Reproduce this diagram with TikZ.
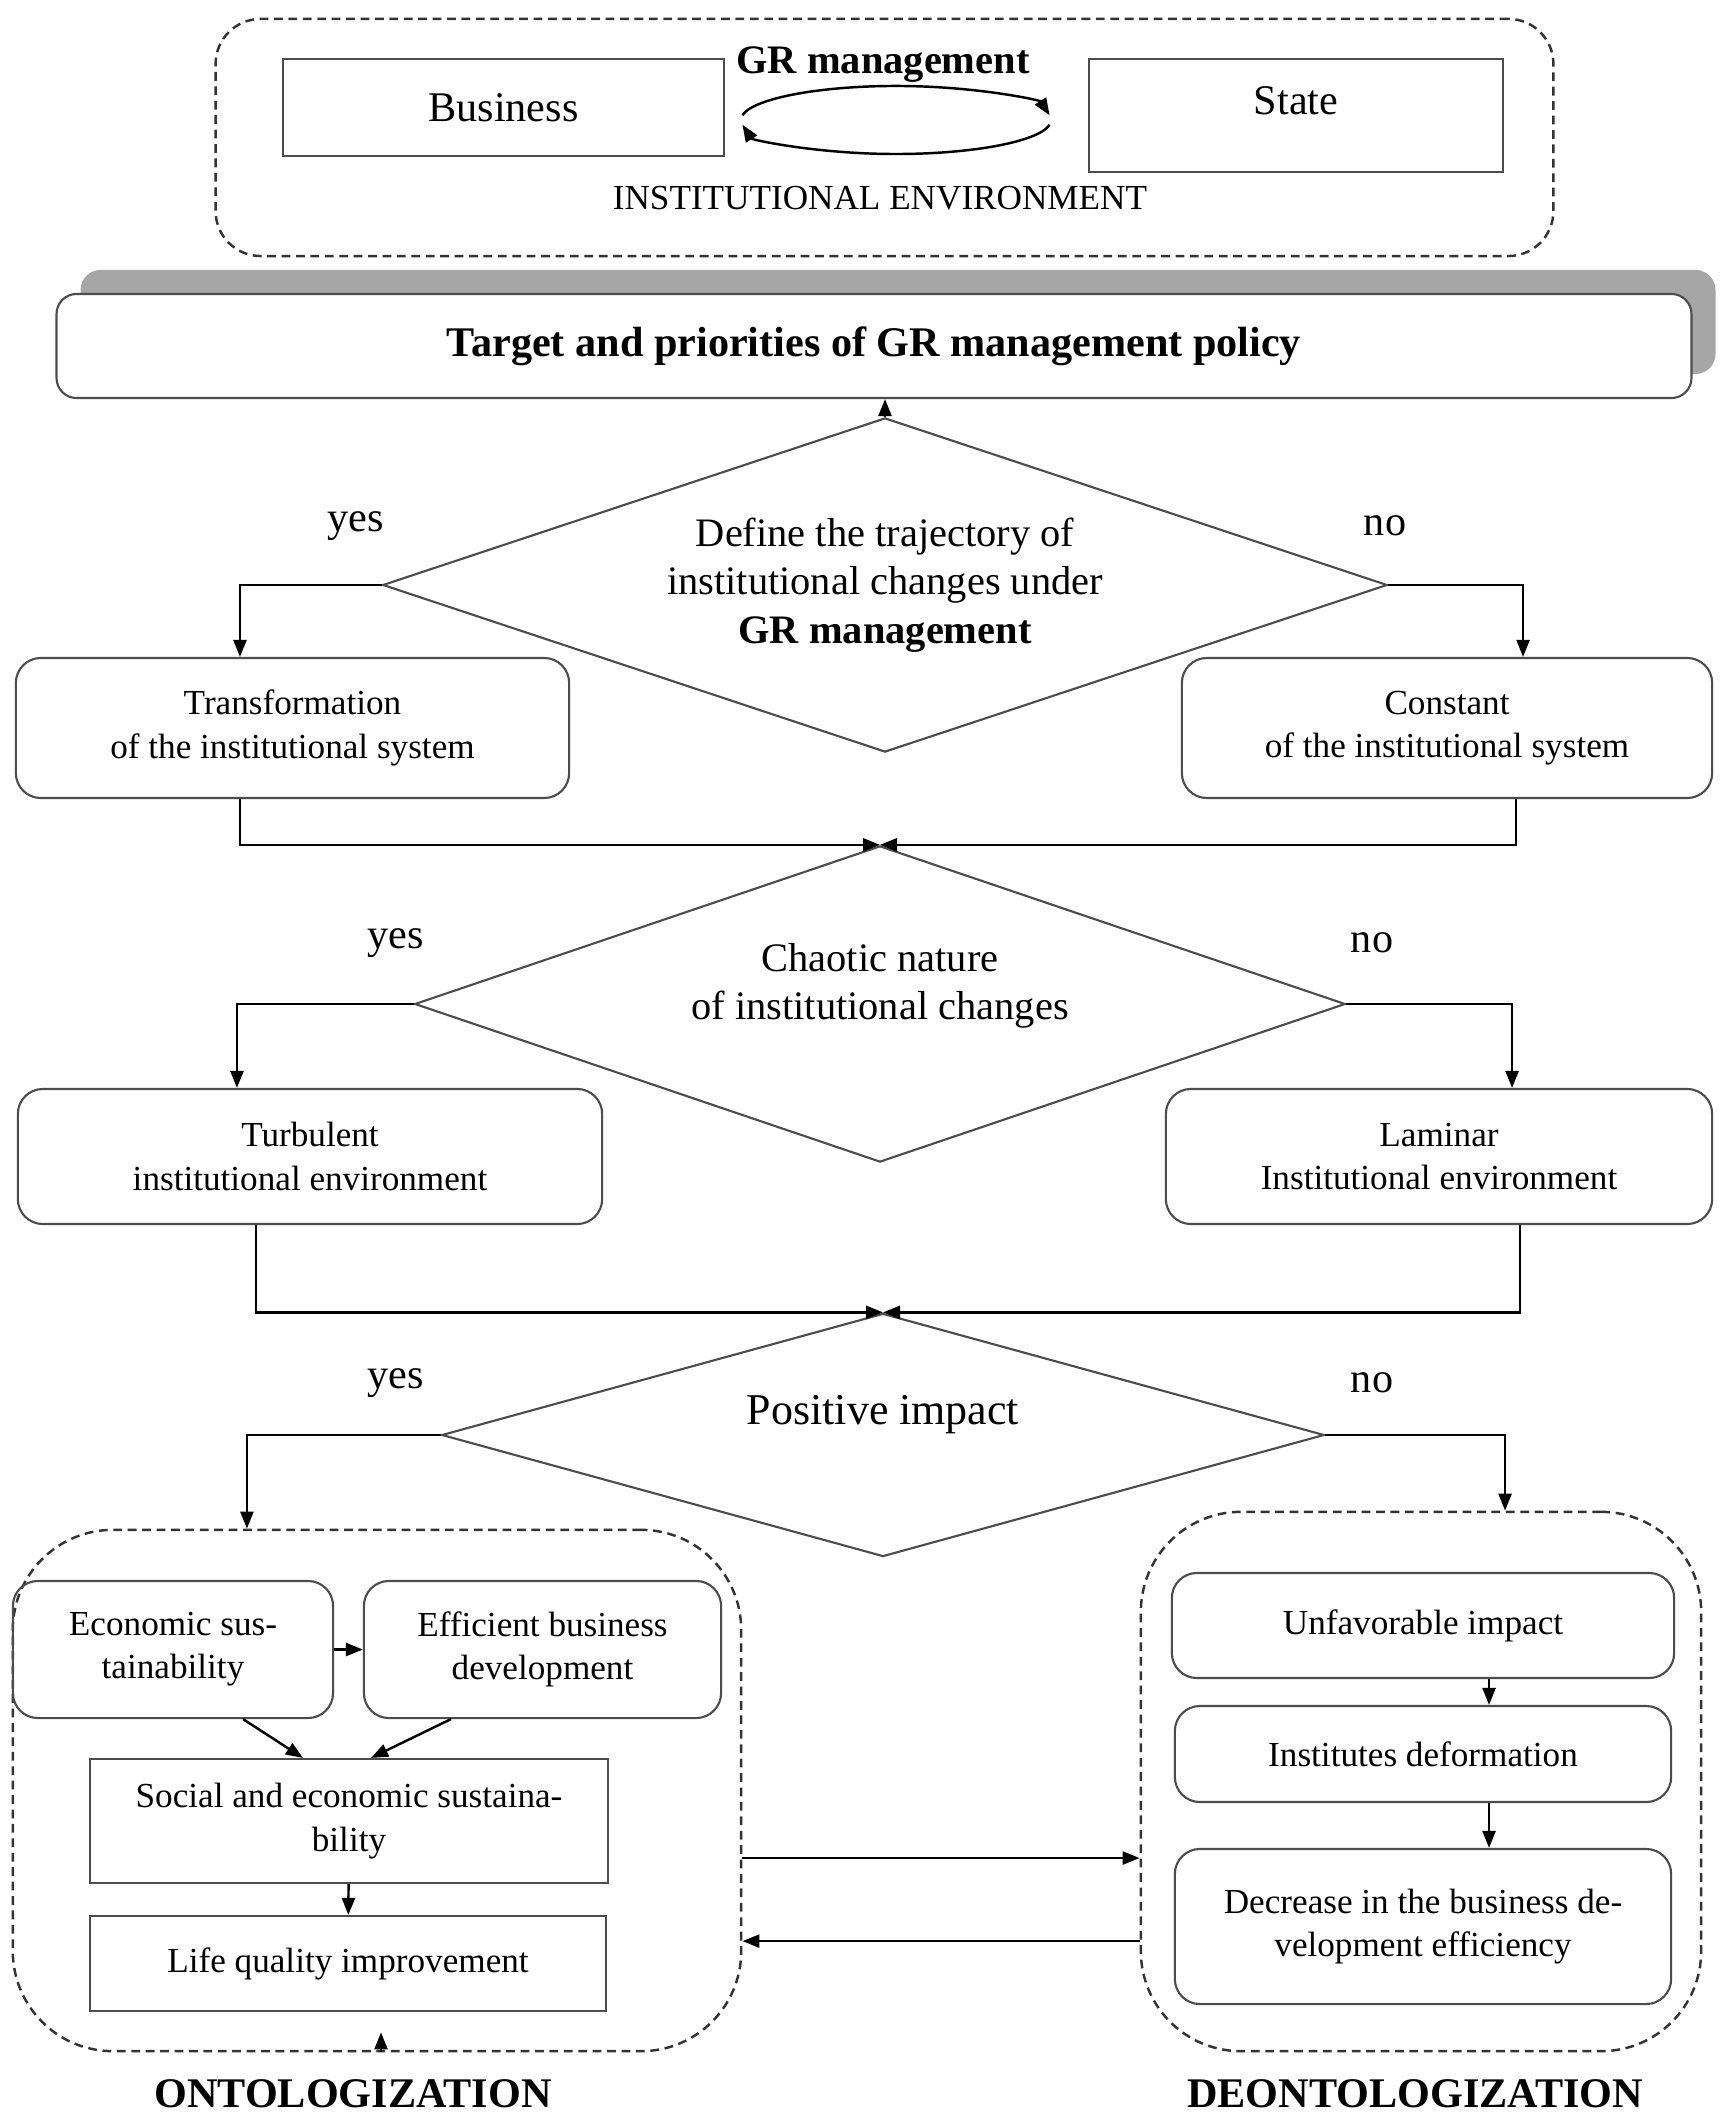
\documentclass[tikz,border=0pt]{standalone}
\usepackage{fontspec}
\setmainfont{Liberation Serif}
\usetikzlibrary{shapes.geometric,arrows.meta,shadows}

\begin{document}
\begin{tikzpicture}[x=0.01cm,y=0.01cm,
  every node/.style={font=\fontsize{10pt}{12.3pt}\selectfont, align=center},
  box/.style={draw=black!70, line width=0.6pt, inner sep=2pt},
  rbox/.style={box, rounded corners=0.25cm},
  grp/.style={draw=black!80, line width=0.7pt, dash pattern=on 2.5pt off 1.6pt, rounded corners=1cm},
  cond/.style={diamond, draw=black!70, line width=0.6pt, inner sep=0pt, font=\fontsize{11.5pt}{13.8pt}\selectfont},
  arr/.style={-{Triangle[length=1.7mm,width=1.3mm]}, line width=0.7pt},
  lbl/.style={font=\fontsize{12pt}{14pt}\selectfont}]

\useasboundingbox (0,0) rectangle (1725,-2113);

\node[grp, rounded corners=0.45cm, minimum width=13.37cm, minimum height=2.37cm] (env) at (884.5,-137.5) {};
\node[box, minimum width=4.41cm, minimum height=0.97cm, font=\fontsize{12pt}{14pt}\selectfont] (bus) at (503.5,-107.5) {Business};
\node[box, minimum width=4.14cm, minimum height=1.13cm, text depth=0.3cm, font=\fontsize{12pt}{14pt}\selectfont] (state) at (1296,-115.5) {State};
\node[font=\bfseries\fontsize{11.5pt}{14pt}\selectfont] (grm) at (883,-65) {GR management};
\coordinate (cyc) at (896,-120);
\draw[arr] ([shift={(172:1.55cm and 0.34cm)}]cyc) arc[start angle=172, end angle=8, x radius=1.55cm, y radius=0.34cm];
\draw[arr] ([shift={(352:1.55cm and 0.34cm)}]cyc) arc[start angle=352, end angle=188, x radius=1.55cm, y radius=0.34cm];
\node (envlbl) at (880,-198) {INSTITUTIONAL ENVIRONMENT};

\node[box, rounded corners=0.2cm, fill=white, drop shadow={shadow xshift=0.24cm, shadow yshift=0.24cm, fill=black!35, opacity=1},
  minimum width=16.34cm, minimum height=1.04cm, font=\bfseries\fontsize{12pt}{14pt}\selectfont] (policy) at (874,-346) {Target and priorities of GR management policy};

\node[cond, aspect=3, minimum width=10.04cm, minimum height=3.34cm] (traj) at (885,-585) {Define the trajectory of\\institutional changes under\\\textbf{GR management}};
\node[lbl] (yes1) at (356,-526) {yes};
\node[lbl] (no1) at (1385,-526) {no};
\node[rbox, minimum width=5.53cm, minimum height=1.40cm] (trans) at (292.5,-728) {Transformation\\of the institutional system};
\node[rbox, minimum width=5.30cm, minimum height=1.40cm] (const) at (1447,-728) {Constant\\of the institutional system};

\node[cond, aspect=2.9, minimum width=9.30cm, minimum height=3.16cm, text depth=0.45cm] (chaos) at (880,-1004) {Chaotic nature\\of institutional changes};
\node[lbl] (yes2) at (396,-943) {yes};
\node[lbl] (no2) at (1372,-943) {no};
\node[rbox, minimum width=5.84cm, minimum height=1.35cm] (turb) at (310,-1156.5) {Turbulent\\institutional environment};
\node[rbox, minimum width=5.46cm, minimum height=1.35cm] (lam) at (1439,-1156.5) {Laminar\\Institutional environment};

\node[cond, aspect=3.6, minimum width=8.82cm, minimum height=2.43cm, text depth=0.5cm, font=\fontsize{12.5pt}{15pt}\selectfont] (impact) at (883,-1435) {Positive impact};
\node[lbl] (yes3) at (396,-1383) {yes};
\node[lbl] (no3) at (1372,-1383) {no};

\node[grp, minimum width=7.28cm, minimum height=5.21cm] (ont) at (377,-1790.5) {};
\node[grp, minimum width=5.60cm, minimum height=5.39cm] (deont) at (1421,-1781.5) {};

\node[rbox, minimum width=3.20cm, minimum height=1.37cm] (econ) at (173,-1649.5) {Economic sus-\\tainability};
\node[rbox, minimum width=3.57cm, minimum height=1.37cm] (effic) at (542.5,-1649.5) {Efficient business\\development};
\node[box, minimum width=5.18cm, minimum height=1.24cm] (social) at (349,-1821) {Social and economic sustaina-\\bility};
\node[box, minimum width=5.16cm, minimum height=0.95cm] (life) at (348,-1963.5) {Life quality improvement};

\node[rbox, minimum width=5.02cm, minimum height=1.05cm] (unfav) at (1423,-1625.5) {Unfavorable impact};
\node[rbox, minimum width=4.96cm, minimum height=0.96cm] (deform) at (1423,-1754) {Institutes deformation};
\node[rbox, minimum width=4.96cm, minimum height=1.55cm] (decr) at (1423,-1926.5) {Decrease in the business de-\\velopment efficiency};

\node[font=\bfseries\fontsize{12pt}{14pt}\selectfont] (ontlbl) at (353,-2094) {ONTOLOGIZATION};
\node[font=\bfseries\fontsize{12pt}{14pt}\selectfont] (deontlbl) at (1415,-2094) {DEONTOLOGIZATION};

\draw[arr] (traj.north) -- (traj.north |- policy.south);
\draw[arr] (traj.west) -| ([xshift=-0.525cm]trans.north);
\draw[arr] (traj.east) -| ([xshift=0.76cm]const.north);
\draw[arr] ([xshift=-0.525cm]trans.south) |- (chaos.north);
\draw[arr] ([xshift=0.69cm]const.south) |- (chaos.north);
\draw[arr] (chaos.west) -| ([xshift=-0.73cm]turb.north);
\draw[arr] (chaos.east) -| ([xshift=0.73cm]lam.north);
\draw[arr] ([xshift=-0.54cm]turb.south) |- (impact.north);
\draw[arr] ([xshift=0.81cm]lam.south) |- (impact.north);
\draw[arr] (impact.west) -| ([xshift=-1.30cm]ont.north);
\draw[arr] (impact.east) -| ([xshift=0.84cm]deont.north);

\draw[arr] (econ) -- (effic);
\draw[arr] ([xshift=0.70cm]econ.south) -- ([xshift=-0.46cm]social.north);
\draw[arr] ([xshift=-0.915cm]effic.south) -- ([xshift=0.22cm]social.north);
\draw[arr] (social) -- (life);
\coordinate (onttip) at ([xshift=0.04cm,yshift=0.2cm]ont.south);
\draw[arr] ([xshift=0.04cm]ont.south) -- (onttip);

\draw[arr] ([xshift=0.66cm]unfav.south) -- ([xshift=0.66cm]deform.north);
\draw[arr] ([xshift=0.66cm]deform.south) -- ([xshift=0.66cm]decr.north);

\draw[arr] ([yshift=-0.675cm]ont.east) -- ([yshift=-0.675cm]ont.east -| deont.west);
\draw[arr] ([yshift=-1.505cm]ont.east -| deont.west) -- ([yshift=-1.505cm]ont.east);
\end{tikzpicture}
\end{document}
